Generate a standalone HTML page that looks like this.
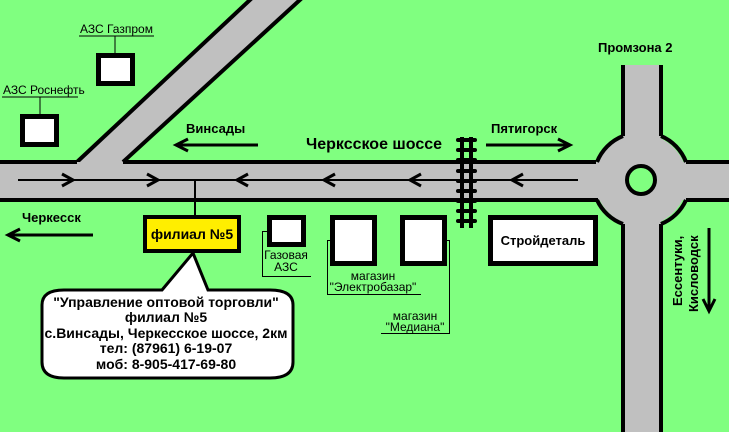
<!DOCTYPE html>
<html><head><meta charset="utf-8"><style>
html,body{margin:0;padding:0;background:#80ff80;}
svg{display:block}
text{font-family:"Liberation Sans",sans-serif;font-weight:bold;fill:#000}
</style></head><body>
<svg width="729" height="432" viewBox="0 0 729 432" xmlns="http://www.w3.org/2000/svg">
<rect width="729" height="432" fill="#80ff80"/>
<polygon points="77,162 250,0 300,0 123,162" fill="#c0c0c0"/>
<line x1="77" y1="162" x2="252" y2="-2" stroke="#000" stroke-width="4"/>
<line x1="123" y1="162" x2="302" y2="-2" stroke="#000" stroke-width="4"/>
<rect x="0" y="162" width="729" height="38" fill="#c0c0c0"/>
<rect x="623" y="65" width="38" height="367" fill="#c0c0c0"/>
<circle cx="641" cy="180" r="46" fill="#c0c0c0"/>
<path d="M0 162 H77 M123 162 H596" stroke="#000" stroke-width="4" fill="none"/>
<path d="M0 200 H598" stroke="#000" stroke-width="4" fill="none"/>
<path d="M686 162 H729 M686 200 H729" stroke="#000" stroke-width="4" fill="none"/>
<path d="M623 65 V136 M661 65 V136 M623 224 V432 M661 224 V432" stroke="#000" stroke-width="4" fill="none"/>
<path d="M623 136 A46 46 0 0 0 597 162 M661 136 A46 46 0 0 1 686 162 M597 200 A46 46 0 0 0 623 224 M686 200 A46 46 0 0 1 661 224" stroke="#000" stroke-width="4" fill="none"/>
<circle cx="641" cy="180" r="14" fill="#80ff80" stroke="#000" stroke-width="4"/>
<line x1="18" y1="180" x2="578" y2="180" stroke="#000" stroke-width="2"/>
<g stroke="#000" stroke-width="3" fill="none">
<path d="M62 174 L73 180 L62 186"/>
<path d="M147 174 L158 180 L147 186"/>
<path d="M248 174 L237 180 L248 186"/>
<path d="M335 174 L324 180 L335 186"/>
<path d="M421 174 L410 180 L421 186"/>
<path d="M523 174 L512 180 L523 186"/>
</g>
<line x1="195" y1="180" x2="195" y2="215" stroke="#000" stroke-width="2"/>
<g stroke="#000">
<line x1="462" y1="137" x2="462" y2="228" stroke-width="4"/>
<line x1="471" y1="137" x2="471" y2="228" stroke-width="4"/>
<g stroke-width="4" stroke-linecap="round">
<line x1="458" y1="140" x2="475" y2="140"/>
<line x1="458" y1="150" x2="475" y2="150"/>
<line x1="458" y1="160" x2="475" y2="160"/>
<line x1="458" y1="171" x2="475" y2="171"/>
<line x1="458" y1="181" x2="475" y2="181"/>
<line x1="458" y1="191" x2="475" y2="191"/>
<line x1="458" y1="201" x2="475" y2="201"/>
<line x1="458" y1="211" x2="475" y2="211"/>
<line x1="458" y1="221" x2="475" y2="221"/>
</g></g>
<g stroke="#000" stroke-width="3" fill="none">
<path d="M176 145 H258 M188 139 L176 145 L188 151"/>
<path d="M486 145 H570 M558 139 L570 145 L558 151"/>
<path d="M8 235 H93 M20 229 L8 235 L20 241"/>
<path d="M709 228 V311 M703 299 L709 311 L715 299"/>
</g>
<text x="186" y="133" font-size="13">Винсады</text>
<text x="491" y="133" font-size="13">Пятигорск</text>
<text x="306" y="149" font-size="16">Черксское шоссе</text>
<text x="598" y="52" font-size="13">Промзона 2</text>
<text x="22" y="222" font-size="13">Черкесск</text>
<text transform="translate(682,306) rotate(-90)" font-size="13">Ессентуки,</text>
<text transform="translate(698,312) rotate(-90)" font-size="13">Кисловодск</text>
<text x="80" y="33" font-size="12" style="font-weight:normal">АЗС Газпром</text>
<line x1="79" y1="36" x2="154" y2="36" stroke="#000" stroke-width="1"/>
<line x1="115" y1="36" x2="115" y2="54" stroke="#000" stroke-width="1"/>
<rect x="98.5" y="55.5" width="34" height="28" fill="#fff" stroke="#000" stroke-width="5"/>
<text x="3" y="94" font-size="12" style="font-weight:normal">АЗС Роснефть</text>
<line x1="2" y1="97" x2="78" y2="97" stroke="#000" stroke-width="1"/>
<line x1="40" y1="97" x2="40" y2="115" stroke="#000" stroke-width="1"/>
<rect x="22.5" y="116.5" width="34" height="28" fill="#fff" stroke="#000" stroke-width="5"/>
<rect x="145" y="217" width="94" height="34" fill="#ffee00" stroke="#000" stroke-width="4"/>
<text x="192" y="239" font-size="14" text-anchor="middle">филиал №5</text>
<rect x="269.5" y="217.5" width="34" height="27" fill="#fff" stroke="#000" stroke-width="5"/>
<path d="M268 231.5 H262.5 V276.5 H311" stroke="#000" stroke-width="1" fill="none"/>
<text x="286" y="259" font-size="12" text-anchor="middle" style="font-weight:normal">Газовая</text>
<text x="286" y="271" font-size="12" text-anchor="middle" style="font-weight:normal">АЗС</text>
<rect x="332.5" y="217.5" width="42" height="46" fill="#fff" stroke="#000" stroke-width="5"/>
<path d="M330 240.5 H327.5 V294.5 H421" stroke="#000" stroke-width="1" fill="none"/>
<text x="373" y="280" font-size="12" text-anchor="middle" style="font-weight:normal">магазин</text>
<text x="373" y="291" font-size="12" text-anchor="middle" style="font-weight:normal">"Электробазар"</text>
<rect x="402.5" y="217.5" width="42" height="46" fill="#fff" stroke="#000" stroke-width="5"/>
<path d="M446 240.5 H449.5 V333.5 H381" stroke="#000" stroke-width="1" fill="none"/>
<text x="415" y="320" font-size="12" text-anchor="middle" style="font-weight:normal">магазин</text>
<text x="415" y="331" font-size="12" text-anchor="middle" style="font-weight:normal">"Медиана"</text>
<rect x="490.5" y="217.5" width="105" height="46" fill="#fff" stroke="#000" stroke-width="5"/>
<text x="543" y="245" font-size="13" text-anchor="middle">Стройдеталь</text>
<path d="M162 290 L193 253 L208 290 L270 290 Q293 290 293 305 L293 362 Q293 378 270 378 L64 378 Q42 378 42 362 L42 305 Q42 290 64 290 Z" fill="#fff" stroke="#000" stroke-width="3"/>
<g font-size="14" text-anchor="middle">
<text x="166" y="307">"Управление оптовой торговли"</text>
<text x="166" y="322">филиал №5</text>
<text x="166" y="338">с.Винсады, Черкесское шоссе, 2км</text>
<text x="166" y="353">тел: (87961) 6-19-07</text>
<text x="166" y="369">моб: 8-905-417-69-80</text>
</g>
</svg>
</body></html>
